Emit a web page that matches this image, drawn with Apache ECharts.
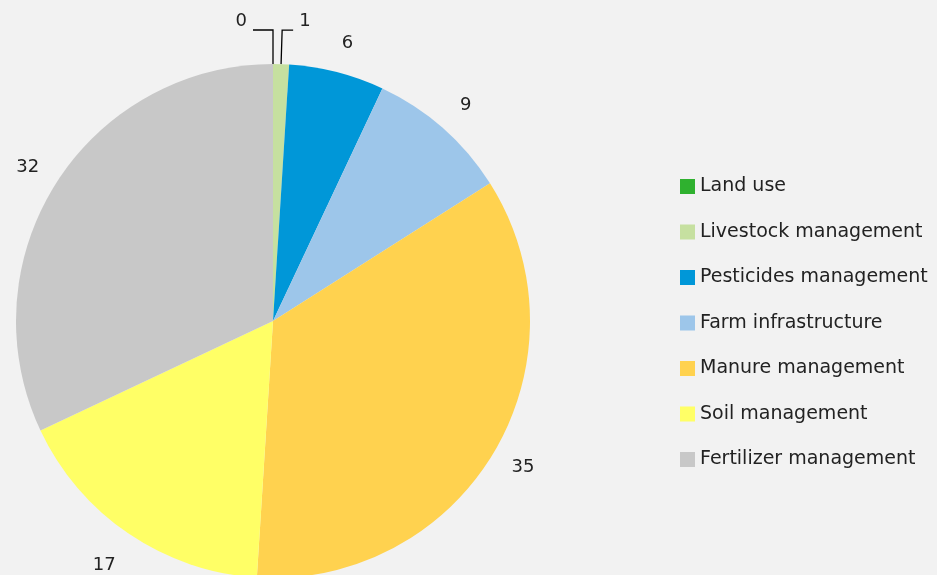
<!DOCTYPE html>
<html>
<head>
<meta charset="utf-8">
<script src="https://cdn.jsdelivr.net/npm/echarts@6/dist/echarts.min.js"></script>
<style>
  html, body { margin: 0; padding: 0; background: #f2f2f2; }
  #chart { width: 937px; height: 575px; }
</style>
</head>
<body>
<div id="chart"></div>
<script>
const categories = [
  "Land use",
  "Livestock management",
  "Pesticides management",
  "Farm infrastructure",
  "Manure management",
  "Soil management",
  "Fertilizer management",
];
const values = [0, 1, 6, 9, 35, 17, 32];
const colors = ["#2fb12f", "#c6e0a0", "#0097d8", "#9dc6ea", "#ffd24f", "#ffff66", "#c8c8c8"];

const chart = echarts.init(document.getElementById("chart"));

const pieData = categories.map((name, i) => {
  const item = { name: name, value: values[i], itemStyle: { color: colors[i] } };
  // only the two thin slices at the top get a leader line
  if (i < 2) {
    item.labelLine = { show: true, length: 34, length2: i === 0 ? 20 : 11, lineStyle: { color: "#000", width: 1.3 } };
    item.label = { distanceToLabelLine: 6 };
  } else {
    item.labelLine = { show: false, length: i === 5 ? 38 : 30 };
  }
  return item;
});

const option = {
  backgroundColor: "#f2f2f2",
  animation: false,
  legend: {
    orient: "vertical",
    left: 675,
    top: 172,
    itemWidth: 15,
    itemHeight: 15,
    itemGap: 26.5,
    icon: "rect",
    textStyle: {
      fontFamily: "DejaVu Sans",
      fontSize: 19,
      lineHeight: 18,
      color: "#222",
    },
    data: categories,
  },
  series: [
    {
      type: "pie",
      center: [273, 321],
      radius: 257,
      startAngle: 90,
      clockwise: true,
      minShowLabelAngle: 0,
      avoidLabelOverlap: false,
      stillShowZeroSum: true,
      label: {
        show: true,
        position: "outside",
        formatter: "{c}",
        fontFamily: "DejaVu Sans",
        fontSize: 18,
        color: "#222",
        overflow: "none",
        distanceToLabelLine: 3,
      },
      labelLine: { show: false, length: 30, length2: 0 },
      labelLayout: (params) => {
        // labels without a leader line sit centred on their anchor point,
        // the two with a leader line sit just above it
        return params.dataIndex >= 2 ? { align: "center" } : { verticalAlign: "bottom" };
      },
      itemStyle: { borderWidth: 0 },
      emphasis: { disabled: true },
      data: pieData,
    },
  ],
};

chart.setOption(option);
</script>
</body>
</html>
